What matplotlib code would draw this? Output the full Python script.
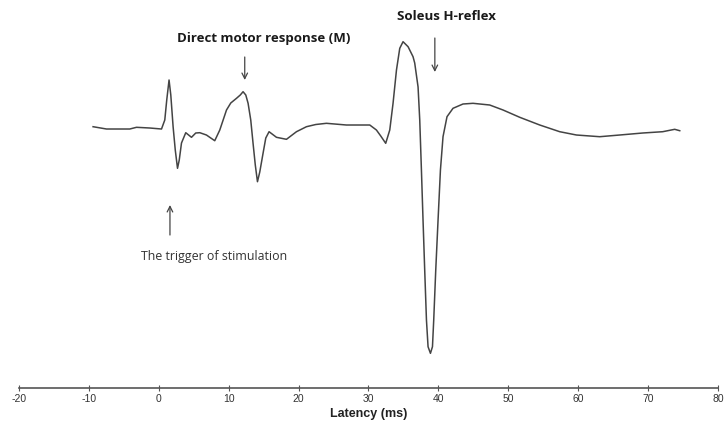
import matplotlib.pyplot as plt
import numpy as np

# EMG trace: latency (ms) and amplitude (arbitrary units, baseline = 0)
latency = [-9.40, -7.48, -4.15, -3.19, -1.29, 0.39, 0.86, 1.14, 1.47, 1.72, 2.05, 2.36,
           2.68, 2.93, 3.25, 3.86, 4.68, 5.29, 5.87, 6.82, 7.44, 8.01, 8.73, 9.69,
           10.30, 11.12, 11.66, 12.06, 12.45, 12.78, 13.16, 13.49, 13.81, 14.12,
           14.45, 14.92, 15.31, 15.78, 16.84, 18.27, 19.70, 21.13, 22.46, 23.99,
           26.85, 30.19, 31.14, 31.76, 32.47, 33.05, 33.52, 34.01, 34.48, 34.95,
           35.67, 36.38, 36.62, 37.10, 37.34, 37.58, 37.81, 38.05, 38.30, 38.53,
           38.87, 39.16, 39.34, 39.63, 39.96, 40.30, 40.67, 41.24, 42.10, 43.53,
           44.96, 47.35, 49.26, 51.65, 54.51, 57.37, 59.76, 63.09, 65.95, 69.24,
           72.10, 73.82, 74.54]
amplitude = [1.3, -1.0, -1.0, 0.7, 0.0, -1.0, 8.0, 28.0, 48.0, 33.0, 1.3, -22.0,
             -40.3, -32.0, -15.0, -4.7, -9.3, -5.0, -4.7, -7.0, -10.0, -12.7, -2.0, 18.0,
             25.0, 29.7, 33.0, 36.3, 33.0, 24.7, 8.0, -15.3, -37.0, -53.7,
             -44.0, -25.3, -10.0, -3.7, -9.3, -11.3, -3.7, 1.3, 3.5, 4.7,
             3.0, 3.0, -2.0, -8.0, -15.3, -2.0, 24.7, 58.0, 79.7, 86.3,
             81.3, 71.3, 65.0, 41.0, 8.0, -42.0, -92.0, -142.0, -192.0, -218.7,
             -225.3, -218.7, -192.0, -142.0, -92.0, -42.0, -8.7, 11.3, 19.7, 24.0,
             24.7, 23.0, 18.0, 10.7, 3.0, -3.7, -7.0, -8.7, -7.0, -5.0,
             -3.7, -1.3, -2.7]

xticks = [-20, -10, 0, 10, 20, 30, 40, 50, 60, 70, 80]

fig = plt.figure(figsize=(7.25, 4.25), dpi=100)
ax = fig.add_axes([0.0262, 0.087, 0.964, 0.913])

ax.plot(latency, amplitude, color="#444444", linewidth=1.1, solid_joinstyle="round")

ax.set_xlim(-20, 80)
ax.set_ylim(-260, 128)
ax.set_xticks(xticks)
ax.set_xticklabels([str(t) for t in xticks],
                   family=["Liberation Sans Narrow", "Liberation Sans"], fontsize=7.5, color="#333333")
ax.tick_params(axis="x", direction="inout", length=4, width=0.8, color="#555555", pad=2)
ax.set_xlabel("Latency (ms)", family=["Liberation Sans Narrow", "Liberation Sans"],
              fontsize=9, fontweight="bold", color="#222222", labelpad=3)

for side in ["left", "right", "top"]:
    ax.spines[side].set_visible(False)
ax.spines["bottom"].set_color("#555555")
ax.spines["bottom"].set_linewidth(1.2)
ax.set_yticks([])

arrow = dict(arrowstyle="->", color="#444444", lw=0.9, shrinkA=0, shrinkB=0)

ax.text(15.0, 90, "Direct motor response (M)", ha="center", va="center",
        family="Open Sans", fontsize=9.5, fontweight="bold", color="#1a1a1a")
ax.annotate("", xy=(12.3, 48), xytext=(12.3, 71), arrowprops=arrow)

ax.text(41.2, 112, "Soleus H-reflex", ha="center", va="center",
        family="Open Sans", fontsize=9.5, fontweight="bold", color="#1a1a1a")
ax.annotate("", xy=(39.5, 56), xytext=(39.5, 90), arrowprops=arrow)

ax.text(7.9, -128, "The trigger of stimulation", ha="center", va="center",
        family="Open Sans", fontsize=8.9, color="#333333")
ax.annotate("", xy=(1.6, -77), xytext=(1.6, -107), arrowprops=arrow)

fig.savefig("out.png", dpi=100)
